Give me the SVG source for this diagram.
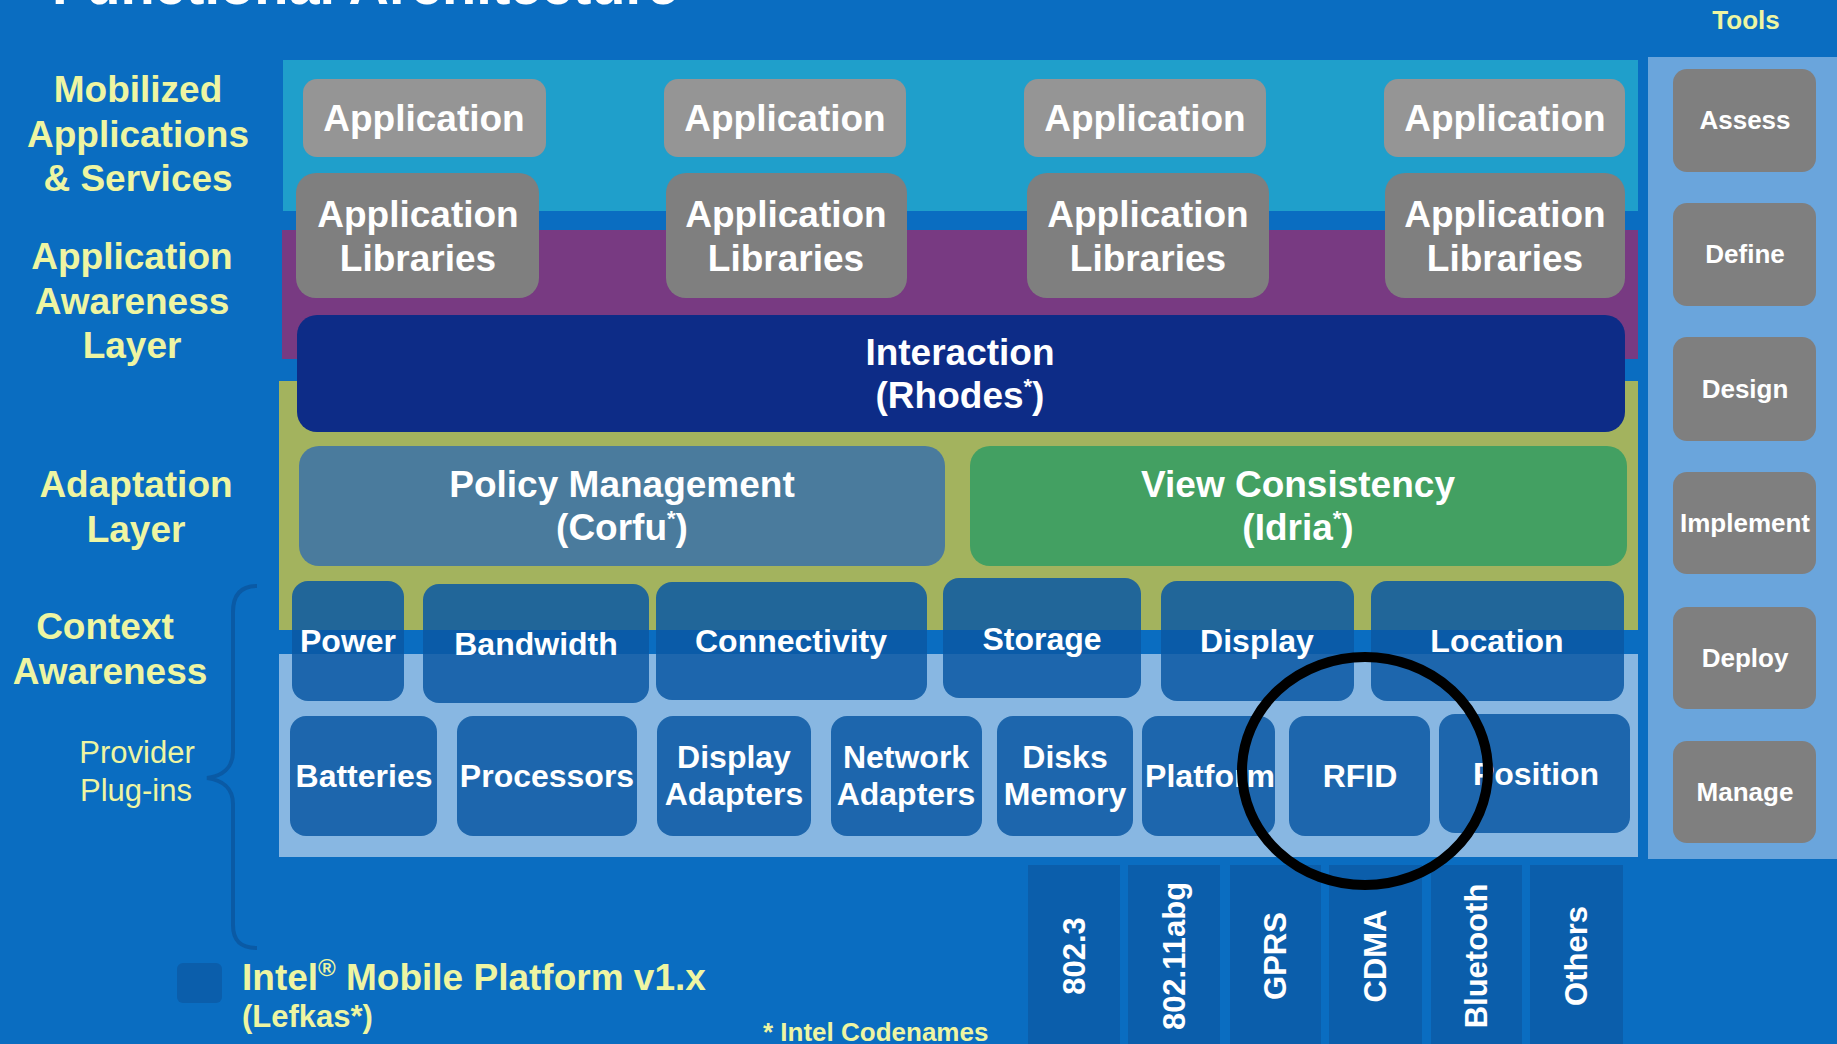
<svg xmlns="http://www.w3.org/2000/svg" width="1837" height="1044" viewBox="0 0 1837 1044">
<style>
text{font-family:"Liberation Sans",Arial,sans-serif;font-weight:bold}
.w{fill:#ffffff;text-anchor:middle}
.y{fill:#eef5a2;text-anchor:middle}
.b37{font-size:37px}
.b32{font-size:32px}
.b26{font-size:26px}
.app{fill:#959595}
.lib{fill:#7f7f7f}
.ctx{fill:#0b58a3;fill-opacity:0.85}
.tool{fill:#7f7f7f}
.bar{fill:#0b5eab}
</style>
<rect x="0" y="0" width="1837" height="1044" fill="#0a6dc1"/>
<text x="52" y="4" style="font-size:56px;fill:#ffffff">Functional Architecture</text>
<text class="y b26" x="1746" y="29">Tools</text>

<g id="bands">
<rect x="283" y="60" width="1355" height="151" fill="#1f9fcb"/>
<rect x="282" y="230" width="1356" height="129" fill="#783a82"/>
<rect x="279" y="381" width="1359" height="249" fill="#a3b35e"/>
<rect x="279" y="654" width="1359" height="203" fill="#88b7e2"/>
<rect x="1648" y="57" width="189" height="802" fill="#6aa5dc"/>
</g>

<g id="left-labels" class="y b37">
<text class="y b37" x="138" y="102">Mobilized</text>
<text class="y b37" x="138" y="147">Applications</text>
<text class="y b37" x="138" y="191">&amp; Services</text>
<text class="y b37" x="132" y="269">Application</text>
<text class="y b37" x="132" y="314">Awareness</text>
<text class="y b37" x="132" y="358">Layer</text>
<text class="y b37" x="136" y="497">Adaptation</text>
<text class="y b37" x="136" y="542">Layer</text>
<text class="y b37" x="105" y="639">Context</text>
<text class="y b37" x="110" y="684">Awareness</text>
<text class="y" x="137" y="763" style="font-weight:normal;font-size:31px">Provider</text>
<text class="y" x="136" y="801" style="font-weight:normal;font-size:31px">Plug-ins</text>
</g>

<g id="brace">
<path d="M257,586 C240,586 233,596 233,612 L233,752 C233,768 222,776 207,778 C222,780 233,788 233,804 L233,925 C233,940 240,948 257,948" fill="none" stroke="#0a5aa5" stroke-width="4"/>
</g>

<g id="app1"><rect class="app" x="303" y="79" width="243" height="78" rx="14"/><text class="w b37" x="424" y="131">Application</text></g>
<g id="app2"><rect class="app" x="664" y="79" width="242" height="78" rx="14"/><text class="w b37" x="785" y="131">Application</text></g>
<g id="app3"><rect class="app" x="1024" y="79" width="242" height="78" rx="14"/><text class="w b37" x="1145" y="131">Application</text></g>
<g id="app4"><rect class="app" x="1384" y="79" width="241" height="78" rx="14"/><text class="w b37" x="1505" y="131">Application</text></g>

<g id="lib1"><rect class="lib" x="296" y="173" width="243" height="125" rx="20"/><text class="w b37" x="418" y="227">Application</text><text class="w b37" x="418" y="271">Libraries</text></g>
<g id="lib2"><rect class="lib" x="666" y="173" width="241" height="125" rx="20"/><text class="w b37" x="786" y="227">Application</text><text class="w b37" x="786" y="271">Libraries</text></g>
<g id="lib3"><rect class="lib" x="1027" y="173" width="242" height="125" rx="20"/><text class="w b37" x="1148" y="227">Application</text><text class="w b37" x="1148" y="271">Libraries</text></g>
<g id="lib4"><rect class="lib" x="1385" y="173" width="240" height="125" rx="20"/><text class="w b37" x="1505" y="227">Application</text><text class="w b37" x="1505" y="271">Libraries</text></g>

<g id="interaction"><rect x="297" y="315" width="1328" height="117" rx="20" fill="#0d2c87"/><text class="w b37" x="960" y="365">Interaction</text><text class="w b37" x="960" y="408">(Rhodes<tspan style="font-size:22px" dy="-14">*</tspan><tspan dy="14">)</tspan></text></g>

<g id="policy"><rect x="299" y="446" width="646" height="120" rx="20" fill="#4a7b9d"/><text class="w b37" x="622" y="497">Policy Management</text><text class="w b37" x="622" y="540">(Corfu<tspan style="font-size:22px" dy="-14">*</tspan><tspan dy="14">)</tspan></text></g>
<g id="view"><rect x="970" y="446" width="657" height="120" rx="20" fill="#43a062"/><text class="w b37" x="1298" y="497">View Consistency</text><text class="w b37" x="1298" y="540">(Idria<tspan style="font-size:22px" dy="-14">*</tspan><tspan dy="14">)</tspan></text></g>

<g id="power"><rect class="ctx" x="292" y="581" width="112" height="120" rx="16"/><text class="w b32" x="348" y="652">Power</text></g>
<g id="bandwidth"><rect class="ctx" x="423" y="584" width="226" height="119" rx="16"/><text class="w b32" x="536" y="655">Bandwidth</text></g>
<g id="connectivity"><rect class="ctx" x="656" y="582" width="271" height="118" rx="16"/><text class="w b32" x="791" y="652">Connectivity</text></g>
<g id="storage"><rect class="ctx" x="943" y="578" width="198" height="120" rx="16"/><text class="w b32" x="1042" y="650">Storage</text></g>
<g id="display"><rect class="ctx" x="1161" y="581" width="193" height="120" rx="16"/><text class="w b32" x="1257" y="652">Display</text></g>
<g id="location"><rect class="ctx" x="1371" y="581" width="253" height="120" rx="16"/><text class="w b32" x="1497" y="652">Location</text></g>

<g id="batteries"><rect class="ctx" x="290" y="716" width="147" height="120" rx="16"/><text class="w b32" x="364" y="787">Batteries</text></g>
<g id="processors"><rect class="ctx" x="457" y="716" width="180" height="120" rx="16"/><text class="w b32" x="547" y="787">Processors</text></g>
<g id="display-adapters"><rect class="ctx" x="657" y="716" width="154" height="120" rx="16"/><text class="w b32" x="734" y="768">Display</text><text class="w b32" x="734" y="805">Adapters</text></g>
<g id="network-adapters"><rect class="ctx" x="831" y="716" width="151" height="120" rx="16"/><text class="w b32" x="906" y="768">Network</text><text class="w b32" x="906" y="805">Adapters</text></g>
<g id="disks-memory"><rect class="ctx" x="997" y="716" width="136" height="120" rx="16"/><text class="w b32" x="1065" y="768">Disks</text><text class="w b32" x="1065" y="805">Memory</text></g>
<g id="platform"><rect class="ctx" x="1142" y="716" width="133" height="120" rx="16"/><text class="w b32" x="1210" y="787">Platform</text></g>
<g id="rfid"><rect class="ctx" x="1289" y="716" width="141" height="120" rx="16"/><text class="w b32" x="1360" y="787">RFID</text></g>
<g id="position"><rect class="ctx" x="1439" y="714" width="191" height="119" rx="16"/><text class="w b32" x="1536" y="785">Position</text></g>

<g id="tool-assess"><rect class="tool" x="1673" y="69" width="143" height="103" rx="14"/><text class="w b26" x="1745" y="129">Assess</text></g>
<g id="tool-define"><rect class="tool" x="1673" y="203" width="143" height="103" rx="14"/><text class="w b26" x="1745" y="263">Define</text></g>
<g id="tool-design"><rect class="tool" x="1673" y="337" width="143" height="104" rx="14"/><text class="w b26" x="1745" y="398">Design</text></g>
<g id="tool-implement"><rect class="tool" x="1673" y="472" width="143" height="102" rx="14"/><text class="w b26" x="1745" y="532">Implement</text></g>
<g id="tool-deploy"><rect class="tool" x="1673" y="607" width="143" height="102" rx="14"/><text class="w b26" x="1745" y="667">Deploy</text></g>
<g id="tool-manage"><rect class="tool" x="1673" y="741" width="143" height="102" rx="14"/><text class="w b26" x="1745" y="801">Manage</text></g>

<g id="bar-8023"><rect class="bar" x="1028" y="865" width="92" height="179"/><text class="w" style="font-size:31px" x="0" y="11" transform="translate(1074,956) rotate(-90)">802.3</text></g>
<g id="bar-80211"><rect class="bar" x="1128" y="865" width="92" height="179"/><text class="w" style="font-size:31px" x="0" y="11" transform="translate(1174,956) rotate(-90)">802.11abg</text></g>
<g id="bar-gprs"><rect class="bar" x="1230" y="865" width="91" height="179"/><text class="w" style="font-size:31px" x="0" y="11" transform="translate(1275,956) rotate(-90)">GPRS</text></g>
<g id="bar-cdma"><rect class="bar" x="1329" y="865" width="93" height="179"/><text class="w" style="font-size:31px" x="0" y="11" transform="translate(1375,956) rotate(-90)">CDMA</text></g>
<g id="bar-bluetooth"><rect class="bar" x="1431" y="865" width="91" height="179"/><text class="w" style="font-size:31px" x="0" y="11" transform="translate(1476,956) rotate(-90)">Bluetooth</text></g>
<g id="bar-others"><rect class="bar" x="1530" y="865" width="93" height="179"/><text class="w" style="font-size:31px" x="0" y="11" transform="translate(1576,956) rotate(-90)">Others</text></g>

<g id="connectors">
<ellipse cx="1365" cy="771" rx="123" ry="114" fill="none" stroke="#000000" stroke-width="10"/>
</g>

<g id="legend">
<rect x="177" y="963" width="45" height="40" rx="6" fill="#0b5eab"/>
<text x="242" y="990" style="font-size:37px;fill:#eef5a2">Intel<tspan style="font-size:24px" dy="-14">®</tspan><tspan dy="14"> Mobile Platform v1.x</tspan></text>
<text x="242" y="1027" style="font-size:31px;fill:#eef5a2">(Lefkas*)</text>
<text x="763" y="1041" style="font-size:26px;fill:#eef5a2">* Intel Codenames</text>
</g>
</svg>
